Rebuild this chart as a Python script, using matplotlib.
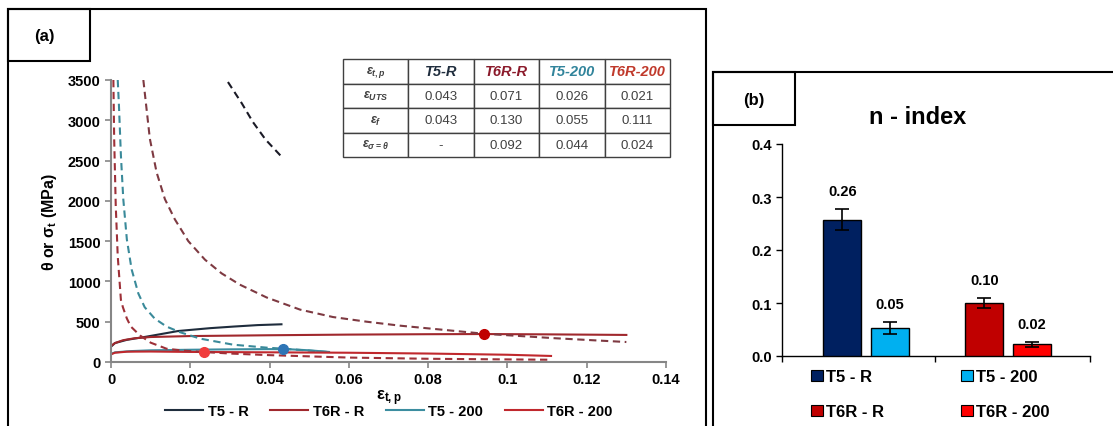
import matplotlib
matplotlib.use("Agg")
import matplotlib.pyplot as plt
from matplotlib.patches import Rectangle
from matplotlib.ticker import FuncFormatter

plt.rcParams['font.family'] = ['Liberation Sans', 'DejaVu Sans']
plt.rcParams['font.weight'] = 'bold'
plt.rcParams['axes.labelweight'] = 'bold'
plt.rcParams['mathtext.fontset'] = 'custom'
plt.rcParams['mathtext.rm'] = 'Liberation Sans:bold'
plt.rcParams['mathtext.it'] = 'Liberation Sans:italic:bold'
plt.rcParams['mathtext.bf'] = 'Liberation Sans:bold'

# ---- panel (a) data: true stress (solid) and hardening rate theta (dashed)
t5r_eps = [0, 0.001, 0.004, 0.009, 0.017, 0.025, 0.031, 0.037, 0.043]
t5r_sig = [190, 235, 275, 315, 385, 420, 440, 458, 468]
t5r_th_eps = [0.0295, 0.033, 0.0358, 0.039, 0.0431]
t5r_th = [3475, 3210, 2978, 2760, 2544]

t6rr_eps = [0, 0.001, 0.003, 0.006, 0.01, 0.02, 0.04, 0.06, 0.08, 0.094, 0.11, 0.13]
t6rr_sig = [200, 235, 270, 295, 310, 322, 332, 340, 345, 347, 343, 336]
t6rr_th_eps = [0.00816, 0.0098, 0.0115, 0.0136, 0.0161, 0.0195, 0.0237, 0.0279, 0.0325,
               0.0393, 0.0477, 0.056, 0.0645, 0.0729, 0.0943, 0.112, 0.13]
t6rr_th = [3500, 2771, 2354, 2021, 1771, 1500, 1270, 1100, 960,
           800, 650, 558, 500, 451, 350, 295, 248]

t5200_eps = [0, 0.001, 0.005, 0.01, 0.02, 0.03, 0.04, 0.045, 0.05, 0.055]
t5200_sig = [100, 120, 135, 145, 152, 157, 160, 158, 145, 125]
t5200_th_eps = [0.0017, 0.002, 0.0025, 0.0031, 0.004, 0.0052, 0.0069, 0.0085, 0.011,
                0.014, 0.0174, 0.0225, 0.0308, 0.0393, 0.0435, 0.0544]
t5200_th = [3500, 3187, 2562, 2021, 1521, 1150, 850, 680, 540,
            440, 370, 290, 215, 178, 165, 125]

t6r200_eps = [0, 0.001, 0.004, 0.01, 0.02, 0.04, 0.06, 0.08, 0.1, 0.111]
t6r200_sig = [95, 115, 128, 130, 125, 120, 115, 105, 90, 75]
t6r200_th_eps = [0.0006, 0.0008, 0.0012, 0.0017, 0.0025, 0.003, 0.004, 0.005, 0.0073,
                 0.01, 0.014, 0.0185, 0.0235, 0.03, 0.04, 0.06, 0.08, 0.111]
t6r200_th = [3500, 2771, 1937, 1312, 771, 680, 540, 440, 330,
             240, 165, 140, 124, 105, 85, 55, 40, 28]

cross_eps = [0.0435, 0.094, 0.0235]
cross_val = [165, 350, 124]
cross_colors = ['#2E75B6', '#C00000', '#F03C3C']

series_names = ['T5 - R', 'T6R - R', 'T5 - 200', 'T6R - 200']
line_colors = ['#1F2D3D', '#A0282D', '#3C8DA0', '#C0282D']
dash_colors = ['#1A1A26', '#7E3A42', '#3A8A9A', '#9E3038']

# table
table_cols = ['T5-R', 'T6R-R', 'T5-200', 'T6R-200']
table_rows = [r'$\varepsilon_{t,p}$', r'$\varepsilon_{UTS}$', r'$\varepsilon_{f}$',
              r'$\varepsilon_{\sigma=\theta}$']
eps_uts = ['0.043', '0.071', '0.026', '0.021']
eps_f = ['0.043', '0.130', '0.055', '0.111']
eps_cross = ['-', '0.092', '0.044', '0.024']
header_colors = ['#1F2D3D', '#8B1A2B', '#31849B', '#C0392B']

# ---- panel (b) data: n-index (bar order: T5-R, T5-200, T6R-R, T6R-200)
bar_names = ['T5 - R', 'T5 - 200', 'T6R - R', 'T6R - 200']
n_values = [0.257, 0.053, 0.100, 0.022]
n_errors = [0.020, 0.011, 0.010, 0.005]
n_labels = ['0.26', '0.05', '0.10', '0.02']
bar_colors = ['#002060', '#00B0F0', '#C00000', '#FF0000']

W, H = 1113, 427
fig = plt.figure(figsize=(W / 100, H / 100), dpi=100)

def frac(left, top, right, bottom):
    return [left / W, 1 - bottom / H, (right - left) / W, (bottom - top) / H]

# panel frames
fig.add_artist(Rectangle((8 / W, -0.05), 698 / W, (H - 10) / H + 0.05,
                         transform=fig.transFigure, fill=False, lw=1.5, ec='black'))
fig.add_artist(Rectangle((8 / W, 1 - 62 / H), 82 / W, 52 / H,
                         transform=fig.transFigure, fill=False, lw=1.5, ec='black'))
fig.text(44 / W, 1 - 37 / H, '(a)', fontsize=12, ha='center', va='center')
fig.add_artist(Rectangle((713 / W, -0.05), 0.5, (H - 73) / H + 0.05,
                         transform=fig.transFigure, fill=False, lw=1.5, ec='black'))
fig.add_artist(Rectangle((713 / W, 1 - 126 / H), 82 / W, 53 / H,
                         transform=fig.transFigure, fill=False, lw=1.5, ec='black'))
fig.text(754 / W, 1 - 100 / H, '(b)', fontsize=12, ha='center', va='center')

# ---- panel (a)
ax = fig.add_axes(frac(111, 81, 666, 363))
flows = [(t5r_eps, t5r_sig), (t6rr_eps, t6rr_sig), (t5200_eps, t5200_sig), (t6r200_eps, t6r200_sig)]
thetas = [(t5r_th_eps, t5r_th), (t6rr_th_eps, t6rr_th), (t5200_th_eps, t5200_th),
          (t6r200_th_eps, t6r200_th)]
handles = []
for (ex, sy), (tx, ty), c, dc, name in zip(flows, thetas, line_colors, dash_colors, series_names):
    h, = ax.plot(ex, sy, color=c, lw=1.5, label=name)
    ax.plot(tx, ty, color=dc, lw=1.5, ls=(0, (3.5, 2.2)))
    handles.append(h)
for ex, v, c in zip(cross_eps, cross_val, cross_colors):
    ax.plot(ex, v, 'o', color=c, ms=7, zorder=5)

ax.set_xlim(0, 0.14)
ax.set_ylim(0, 3500)
ax.set_xticks([0, 0.02, 0.04, 0.06, 0.08, 0.1, 0.12, 0.14])
ax.set_yticks(range(0, 3501, 500))
ax.xaxis.set_major_formatter(FuncFormatter(lambda v, p: '{:g}'.format(round(v, 3))))
for s in ['top', 'right']:
    ax.spines[s].set_visible(False)
for s in ['left', 'bottom']:
    ax.spines[s].set_color('#868686')
    ax.spines[s].set_linewidth(1.5)
ax.tick_params(direction='out', length=4, width=1.2, color='#868686', labelsize=10.5)
ax.set_ylabel('θ or σ$_\\mathbf{t}$ (MPa)', fontsize=11.5, fontweight='bold', labelpad=6)
ax.set_xlabel(r'$\mathbf{\varepsilon_{t,p}}$', fontsize=12, labelpad=1)

fig.legend(handles, series_names, loc='center', bbox_to_anchor=(389 / W, 1 - 412 / H),
           ncol=4, frameon=False, fontsize=10.5, handlelength=2.6, columnspacing=1.5,
           handletextpad=0.3)

# table
tax = fig.add_axes(frac(343, 60, 670, 158))
tax.axis('off')
cells = [[table_rows[0]] + table_cols,
         [table_rows[1]] + eps_uts,
         [table_rows[2]] + eps_f,
         [table_rows[3]] + eps_cross]
tbl = tax.table(cellText=cells, bbox=[0, 0, 1, 1], cellLoc='center')
tbl.auto_set_font_size(False)
for (r, c), cell in tbl.get_celld().items():
    cell.set_edgecolor('#404040')
    cell.set_linewidth(1.0)
    if r == 0 and c > 0:
        cell.set_text_props(fontsize=10.5, fontstyle='italic', fontweight='bold',
                            color=header_colors[c - 1])
    elif c == 0:
        cell.set_text_props(fontsize=9, color='#404040')
    else:
        cell.set_text_props(fontsize=9.5, fontweight='normal', color='#404040')

# ---- panel (b)
bx = fig.add_axes(frac(782, 145, 1090, 357))
group_pos = [0, 0, 1, 1]
offsets = [-0.165, 0.17, -0.165, 0.17]
xs = [g + o for g, o in zip(group_pos, offsets)]
bars = bx.bar(xs, n_values, width=0.27, color=bar_colors, edgecolor='black', lw=1.0,
              yerr=n_errors, capsize=5,
              error_kw=dict(elinewidth=1.2, capthick=1.2, ecolor='black'), zorder=3)
for x, v, e, lab in zip(xs, n_values, n_errors, n_labels):
    bx.text(x, v + e + 0.034, lab, ha='center', va='center', fontsize=10.5)
bx.set_xlim(-0.59, 1.58)
bx.set_ylim(0, 0.4)
bx.set_yticks([0, 0.1, 0.2, 0.3, 0.4])
bx.yaxis.set_major_formatter(FuncFormatter(lambda v, p: '{:.1f}'.format(v)))
bx.set_xticks([-0.59, 0.49, 1.58])
bx.set_xticklabels([])
for s in ['top', 'right']:
    bx.spines[s].set_visible(False)
for s in ['left', 'bottom']:
    bx.spines[s].set_linewidth(1.0)
bx.tick_params(direction='out', length=4, width=1.0, labelsize=10.5)
fig.text(918 / W, 1 - 117 / H, 'n - index', fontsize=17, ha='center', va='center')

# legend laid out column-wise: T5-R / T6R-R, then T5-200 / T6R-200
order = [0, 2, 1, 3]
bar_handles = [Rectangle((0, 0), 1, 1, fc=bar_colors[i], ec='black', lw=0.8) for i in order]
fig.legend(bar_handles, [bar_names[i] for i in order], loc='upper left',
           bbox_to_anchor=(803 / W, 1 - 362 / H),
           ncol=2, frameon=False, fontsize=12, handlelength=0.7, handleheight=0.7,
           handletextpad=0.2, columnspacing=4.6, labelspacing=1.2, borderpad=0)

fig.savefig('out.png', dpi=100, facecolor='white')
